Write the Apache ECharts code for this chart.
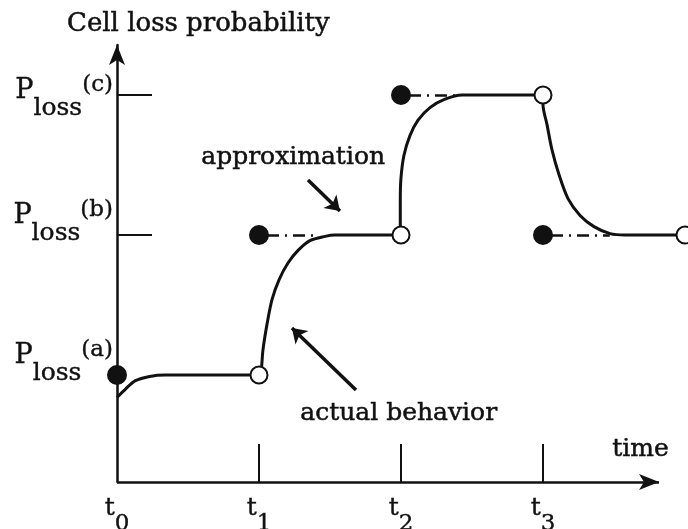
<!DOCTYPE html>
<html>
<head>
<meta charset="utf-8">
<script src="https://cdn.jsdelivr.net/npm/echarts@6/dist/echarts.min.js"></script>
<style>
  html, body { margin: 0; padding: 0; background: #fff; }
  #chart { width: 688px; height: 529px; }
</style>
</head>
<body>
<div id="chart"></div>
<script>
// time ticks t0..t3 and loss levels a, b, c
const timeTicks = [0, 1, 2, 3];
const levelValues = [1, 2, 3];
const levelNames = ['a', 'b', 'c'];

// actual behaviour (solid curve)
const actualCurve = [
  [0, 0.84], [0.06, 0.9], [0.13, 0.96], [0.23, 0.99], [0.34, 1], [1, 1],
  [1.014, 1.02], [1.028, 1.18], [1.056, 1.36], [1.092, 1.54], [1.141, 1.68], [1.204, 1.8],
  [1.275, 1.89], [1.359, 1.96], [1.465, 1.99], [1.535, 2], [2, 2],
  [1.995, 2.07], [1.995, 2.25], [2.0, 2.41], [2.021, 2.57], [2.063, 2.71], [2.12, 2.82],
  [2.204, 2.91], [2.31, 2.97], [2.43, 3], [3, 3],
  [3.0, 2.93], [3.028, 2.79], [3.063, 2.61], [3.113, 2.43], [3.176, 2.26], [3.261, 2.14],
  [3.359, 2.06], [3.472, 2.01], [3.577, 2], [4, 2]
];

// approximation: step starts (filled dots) and the dash-dot pieces
const stepStarts = [[0, 1], [1, 2], [2, 3], [3, 2]];
const dashEnds = [null, [1.42, 2], [2.38, 3], [3.47, 2]];
// open circles at the end of each interval
const stepEnds = [[1, 1], [2, 2], [3, 3], [4, 2]];

// annotation arrows [tail, head]
const approxArrow = [[1.345, 2.393], [1.57, 2.171]];
const actualArrow = [[1.683, 0.893], [1.232, 1.336]];

const yMin = 0.236, yMax = 3.357;
const xArrowEnd = 3.817;

const FONT = 'DejaVu Serif';
const INK = '#111';

let chart = echarts.init(document.getElementById('chart'));

let dashData = [];
stepStarts.forEach(function (p, i) {
  if (dashEnds[i]) dashData.push({ coords: [p, dashEnds[i]] });
});

function textEl(txt, left, top) {
  return {
    type: 'text', left: left, top: top,
    style: { text: txt, font: '25px "DejaVu Serif"', fill: INK, stroke: INK, lineWidth: 0.5 }
  };
}

function rt(size, lh, va) {
  return { fontFamily: FONT, fontSize: size, color: INK, lineHeight: lh, verticalAlign: va, textBorderColor: INK, textBorderWidth: 0.4 };
}

let supStyle = rt(23, 30, 'middle');
supStyle.padding = [0, 0, 12, 0];

chart.setOption({
  animation: false,
  title: {
    text: 'Cell loss probability',
    left: 62, top: 6,
    textStyle: { fontFamily: FONT, fontSize: 26, fontWeight: 'normal', color: INK, textBorderColor: INK, textBorderWidth: 0.5 }
  },
  grid: { left: 117, right: 3, top: 45, bottom: 47, outerBoundsMode: 'none' },
  xAxis: {
    type: 'value', min: 0, max: 4,
    splitLine: { show: false },
    axisLine: { show: false },
    axisTick: { show: true, inside: true, length: 38, customValues: [1, 2, 3], lineStyle: { color: INK, width: 2 } },
    axisLabel: {
      customValues: timeTicks, margin: 14,
      formatter: function (v) { return '{t|t}{s|' + v + '}'; },
      rich: {
        t: rt(25, 40, 'top'),
        s: rt(23, 28, 'bottom')
      }
    }
  },
  yAxis: {
    type: 'value', min: yMin, max: yMax,
    splitLine: { show: false },
    axisLine: { lineStyle: { color: INK, width: 2.5 }, symbol: ['none', 'arrow'], symbolSize: [12, 20] },
    axisTick: { show: true, inside: true, length: 35, customValues: [2, 3], lineStyle: { color: INK, width: 2 } },
    axisLabel: {
      customValues: levelValues, margin: 4,
      formatter: function (v) {
        const name = levelNames[Math.round(v) - 1];
        const main = '{p|P}{s|loss}{u|(' + name + ')}';
        // the a and b labels sit higher above their level than c
        return main + '\n' + (name === 'c' ? '{g1| }' : '{g2| }');
      },
      rich: {
        p: rt(27, 60, 'middle'),
        s: rt(25, 26, 'bottom'),
        u: supStyle,
        g1: { fontSize: 4, lineHeight: 8 },
        g2: { fontSize: 4, lineHeight: 38 }
      }
    }
  },
  graphic: [
    textEl('approximation', 201, 145),
    textEl('actual behavior', 300, 401),
    textEl('time', 612, 437)
  ],
  series: [
    {
      name: 'actual', type: 'line', data: actualCurve, clip: false,
      smooth: 0.3, symbol: 'none',
      lineStyle: { color: INK, width: 3 }, z: 2,
      markLine: {
        silent: true, symbol: ['none', 'arrow'], symbolSize: [12, 20],
        label: { show: false },
        lineStyle: { type: 'solid', color: INK, width: 2.5 },
        data: [[{ coord: [0, yMin] }, { coord: [xArrowEnd, yMin] }]]
      }
    },
    {
      name: 'approximation', type: 'lines', coordinateSystem: 'cartesian2d',
      data: dashData,
      lineStyle: { color: INK, width: 2.5, type: [2, 6, 12, 6], opacity: 1 }, z: 2
    },
    {
      name: 'arrows', type: 'lines', coordinateSystem: 'cartesian2d',
      data: [{ coords: approxArrow }, { coords: actualArrow }],
      symbol: ['none', 'arrow'], symbolSize: 14,
      lineStyle: { color: INK, width: 3.5, opacity: 1 }, z: 2
    },
    {
      name: 'starts', type: 'scatter', data: stepStarts, clip: false,
      symbol: 'circle', symbolSize: 20,
      itemStyle: { color: INK, opacity: 1 }, z: 4
    },
    {
      name: 'ends', type: 'scatter', data: stepEnds, clip: false,
      symbol: 'circle', symbolSize: 17,
      itemStyle: { color: '#fff', borderColor: INK, borderWidth: 2, opacity: 1 }, z: 4
    }
  ]
});
</script>
</body>
</html>
